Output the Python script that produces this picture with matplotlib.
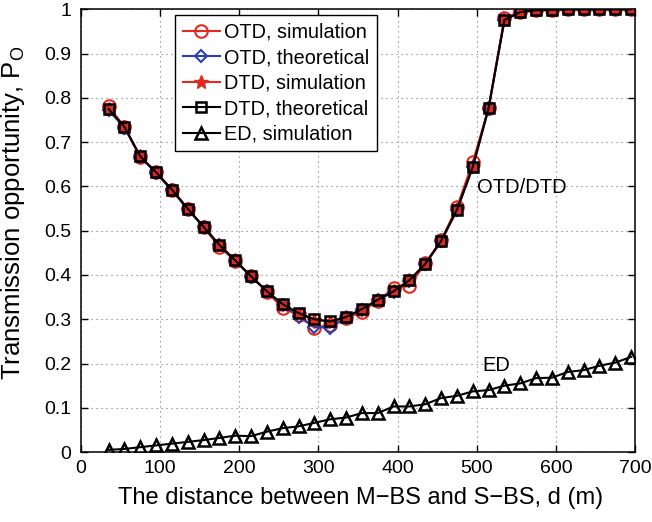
# Transmission opportunity vs M-BS/S-BS distance (OTD, DTD, ED)

import matplotlib
matplotlib.use('Agg')
import matplotlib.pyplot as plt

plt.rcParams['font.family'] = ['Liberation Sans', 'DejaVu Sans']
plt.rcParams['mathtext.fontset'] = 'custom'
plt.rcParams['mathtext.rm'] = 'Liberation Sans'

# distance d (m)
d = [35, 55, 75, 95, 115, 135, 155, 175, 195, 215, 235, 255, 275, 295, 315, 335, 355,
     375, 395, 415, 435, 455, 475, 495, 515, 535, 555, 575, 595, 615, 635, 655, 675, 695]

otd_sim = [0.781, 0.735, 0.666, 0.632, 0.592, 0.549, 0.508, 0.463, 0.432, 0.398, 0.362,
           0.325, 0.310, 0.281, 0.287, 0.302, 0.317, 0.342, 0.370, 0.375, 0.426, 0.478,
           0.553, 0.655, 0.777, 0.981, 0.995, 0.998, 0.999, 1.0, 1.0, 1.0, 1.0, 1.0]
otd_theo = [0.772, 0.733, 0.667, 0.630, 0.591, 0.548, 0.508, 0.468, 0.432, 0.396, 0.363,
            0.333, 0.305, 0.283, 0.281, 0.303, 0.322, 0.343, 0.362, 0.387, 0.424, 0.476,
            0.546, 0.643, 0.776, 0.975, 0.994, 0.998, 0.999, 1.0, 1.0, 1.0, 1.0, 1.0]
dtd_sim = [0.776, 0.735, 0.668, 0.632, 0.593, 0.550, 0.509, 0.467, 0.433, 0.397, 0.363,
           0.333, 0.313, 0.299, 0.294, 0.305, 0.322, 0.344, 0.364, 0.388, 0.425, 0.477,
           0.548, 0.645, 0.777, 0.977, 0.994, 0.998, 0.999, 1.0, 1.0, 1.0, 1.0, 1.0]
dtd_theo = [0.775, 0.735, 0.668, 0.632, 0.593, 0.550, 0.509, 0.468, 0.433, 0.397, 0.363,
            0.334, 0.314, 0.300, 0.295, 0.305, 0.323, 0.344, 0.363, 0.388, 0.425, 0.477,
            0.547, 0.644, 0.777, 0.976, 0.994, 0.998, 0.999, 1.0, 1.0, 1.0, 1.0, 1.0]
ed_sim = [0.005, 0.007, 0.011, 0.015, 0.019, 0.023, 0.027, 0.032, 0.037, 0.036, 0.046,
          0.054, 0.058, 0.066, 0.074, 0.078, 0.088, 0.088, 0.103, 0.103, 0.108, 0.122,
          0.127, 0.137, 0.140, 0.150, 0.155, 0.167, 0.168, 0.181, 0.185, 0.195, 0.202, 0.215]

red = '#e2291f'
blue = '#2a3fb0'

fig = plt.figure(figsize=(6.52, 5.22), dpi=100)
ax = fig.add_axes([0.124, 0.134, 0.85, 0.848])

ax.plot(d, otd_sim, color=red, lw=1.5, marker='o', ms=9, mfc='none', mec=red, mew=1.5,
        label='OTD, simulation')
ax.plot(d, otd_theo, color=blue, lw=1.5, marker='D', ms=6, mfc='none', mec=blue, mew=1.5,
        label='OTD, theoretical')
ax.plot(d, dtd_sim, color=red, lw=1.5, marker='*', ms=10, mfc=red, mec=red, mew=1,
        label='DTD, simulation')
ax.plot(d, dtd_theo, color='black', lw=1.5, marker='s', ms=7, mfc='none', mec='black', mew=1.8,
        label='DTD, theoretical')
ax.plot(d, ed_sim, color='black', lw=1.5, marker='^', ms=8.5, mfc='none', mec='black', mew=1.8,
        label='ED, simulation')

ax.set_xlim(0, 700)
ax.set_ylim(0, 1)
ax.set_xticks(range(0, 701, 100))
ax.set_yticks([i / 10 for i in range(11)])
ax.set_yticklabels(['0', '0.1', '0.2', '0.3', '0.4', '0.5', '0.6', '0.7', '0.8', '0.9', '1'])
ax.tick_params(direction='in', top=True, right=True, length=5, width=1, labelsize=14)
ax.tick_params(axis='y', pad=7)
ax.tick_params(axis='x', pad=6)
ax.grid(True, color='#777777', linestyle=(0, (1, 3.5)), linewidth=0.8)
for s in ax.spines.values():
    s.set_linewidth(1.1)

ax.set_xlabel('The distance between M\u2212BS and S\u2212BS, d (m)', fontsize=17)
ax.set_ylabel(r'Transmission opportunity, P$_\mathrm{O}$', fontsize=18.5)
ax.xaxis.set_label_coords(0.505, -0.08)
ax.yaxis.set_label_coords(-0.097, 0.54)

ax.text(501, 0.598, 'OTD/DTD', fontsize=14.5, ha='left', va='center')
ax.text(507, 0.196, 'ED', fontsize=14.5, ha='left', va='center')

leg = ax.legend(loc='upper left', bbox_to_anchor=(175 / 652, 1 - 15 / 522),
                bbox_transform=fig.transFigure, fontsize=14.3, numpoints=1,
                handlelength=1.9, handletextpad=0.2, labelspacing=0.33,
                borderaxespad=0, borderpad=0.38, fancybox=False, framealpha=1)
leg.get_frame().set_edgecolor('black')
leg.get_frame().set_linewidth(1.0)

fig.savefig('out.png', dpi=100)
